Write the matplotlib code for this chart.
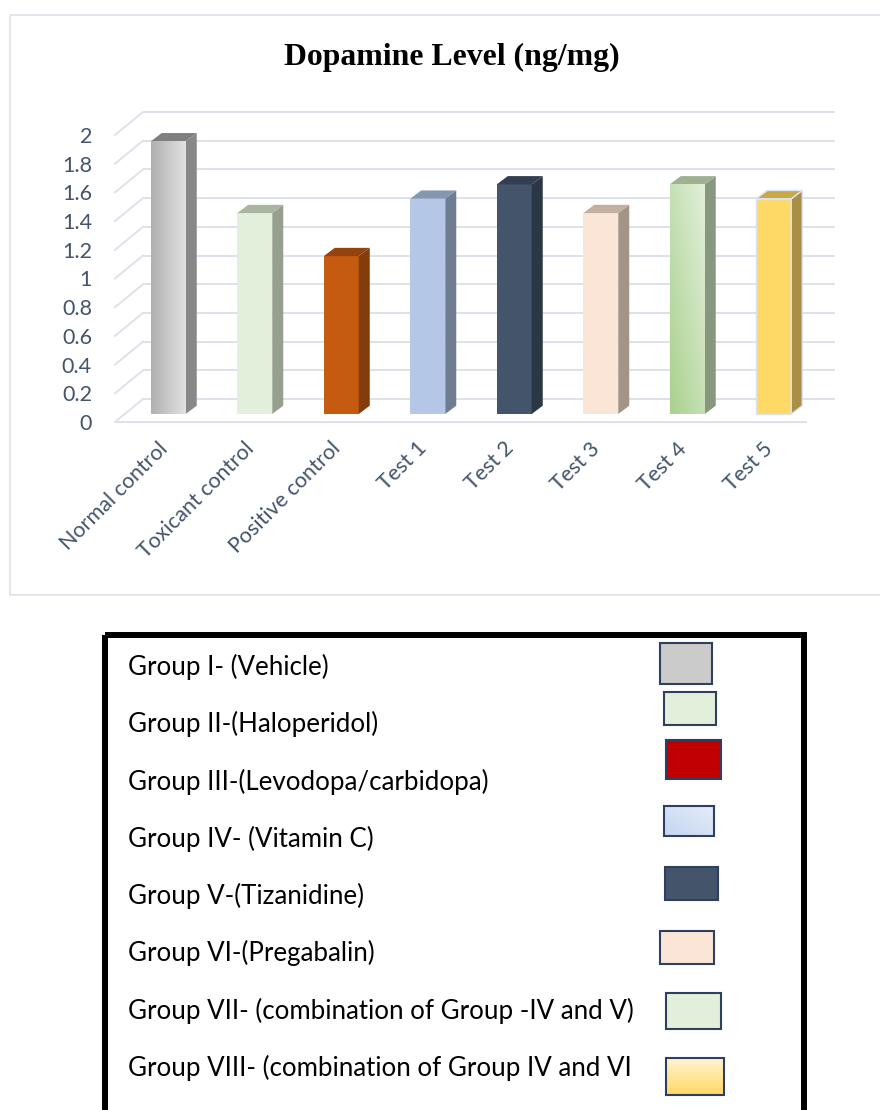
import numpy as np
import matplotlib.pyplot as plt
import matplotlib.transforms as mtransforms
from matplotlib.patches import Polygon, Rectangle
from matplotlib.colors import to_rgb

# %% data
categories = ['Normal control', 'Toxicant control', 'Positive control',
              'Test 1', 'Test 2', 'Test 3', 'Test 4', 'Test 5']
dopamine = [1.9, 1.4, 1.1, 1.5, 1.6, 1.4, 1.6, 1.5]
yticks = [0, 0.2, 0.4, 0.6, 0.8, 1.0, 1.2, 1.4, 1.6, 1.8, 2.0]

groups = ['Group I- (Vehicle)',
          'Group II-(Haloperidol)',
          'Group III-(Levodopa/carbidopa)',
          'Group IV- (Vitamin C)',
          'Group V-(Tizanidine)',
          'Group VI-(Pregabalin)',
          'Group VII- (combination of Group -IV and V)',
          'Group VIII- (combination of Group IV and VI']

# %% styles
front_col = ['#c8c8c8', '#e2efda', '#c55a11', '#b4c7e7', '#44546a', '#fbe5d6', '#c5e0b4', '#ffd966']
side_col = ['#888888', '#97a08f', '#843c0c', '#6f7d93', '#2c3745', '#a39486', '#889880', '#a88f45']
top_col = ['#7f7f7f', '#a9b59f', '#93440e', '#8497b0', '#333f50', '#c3b0a0', '#a0b095', '#c9a847']
grad = {0: ('#b0b0b0', '#e2e2e2', 'h'), 6: ('#a9d18e', '#e2efda', 'd')}

swatch_col = ['#cbcbcb', '#e2efda', '#c00000', '#dae3f3', '#44546a', '#fbe5d6', '#e2efda', '#ffe699']
swatch_grad = {3: ('#c5d6f0', '#e4ecf9', 'd'), 7: ('#ffd966', '#fff4d6', 'v')}

tick_col = '#44546a'
grid_col = '#dde2ea'

W, H = 880, 1110
fig = plt.figure(figsize=(W / 100, H / 100), dpi=100)

# full-figure pixel axes for frames + legend
lax = fig.add_axes([0, 0, 1, 1], zorder=0)
lax.axis('off')


def gradient_fill(a, x0, x1, y0, y1, c0, c1, mode, clip, z):
    n = 64
    u, v = np.meshgrid(np.linspace(0, 1, n), np.linspace(0, 1, n))
    if mode == 'h':
        t = u
    elif mode == 'v':
        t = v
    else:
        t = (u + v) / 2
    c0, c1 = np.array(to_rgb(c0)), np.array(to_rgb(c1))
    img = c0 + (c1 - c0) * t[..., None]
    im = a.imshow(img, extent=[x0, x1, y0, y1], origin='lower', aspect='auto',
                  zorder=z, interpolation='bilinear')
    im.set_clip_path(clip)


# chart panel frame
lax.add_patch(Rectangle((10, 15), 900, 580, fill=False, ec='#dbe1e9', lw=1.2))

# %% 3d-ish bar chart
L, R, T, B = 95, 860, 90, 430
SX, SY = 86.5, 143.5      # px per category / px per unit
X0, Y0 = 125, 414         # px of category -0.5 and value 0
ax = fig.add_axes([L / W, 1 - B / H, (R - L) / W, (B - T) / H], zorder=1)
ax.patch.set_visible(False)

bar_dx, bar_dy = 11 / SX, 8.3 / SY
back_dx, back_dy = 18 / SX, 15 / SY
front_dx, front_dy = -10 / SX, -8 / SY
bw = 35 / SX
n = len(categories)

for v in yticks:
    ax.plot([-0.5 + back_dx, n - 0.5 + back_dx], [v + back_dy] * 2,
            color=grid_col, lw=1.4, zorder=0, solid_capstyle='butt')
    ax.plot([-0.5 + front_dx, -0.5 + back_dx], [v + front_dy, v + back_dy],
            color=grid_col, lw=1.4, zorder=0)
ax.plot([-0.5 + front_dx, n - 0.5 + front_dx], [front_dy] * 2,
        color=grid_col, lw=1.4, zorder=0, solid_capstyle='butt')

x = np.arange(n)
bars = ax.bar(x, dopamine, width=bw, color=front_col, lw=0, zorder=3)
for i, (b, val) in enumerate(zip(bars, dopamine)):
    x0 = b.get_x()
    x1 = x0 + b.get_width()
    ec = '#dae3f3' if i == 7 else 'none'
    ax.add_patch(Polygon([(x1, 0), (x1 + bar_dx, bar_dy), (x1 + bar_dx, val + bar_dy), (x1, val)],
                         closed=True, fc=side_col[i], ec=ec, lw=1, zorder=3))
    ax.add_patch(Polygon([(x0, val), (x0 + bar_dx, val + bar_dy), (x1 + bar_dx, val + bar_dy), (x1, val)],
                         closed=True, fc=top_col[i], ec=ec, lw=1, zorder=3))
    if i in grad:
        c0, c1, m = grad[i]
        gradient_fill(ax, x0, x1, 0, val, c0, c1, m, b, 4)
    if i == 7:
        b.set_edgecolor(ec)
        b.set_linewidth(1)

ax.set_xlim((L - X0) / SX - 0.5, (R - X0) / SX - 0.5)
ax.set_ylim((Y0 - B) / SY, (Y0 - T) / SY)

ax.set_yticks(np.array(yticks) + front_dy, labels=[f'{t:g}' for t in yticks])
ax.set_xticks(x, labels=categories, rotation=45, ha='right', rotation_mode='anchor')
ax.tick_params(axis='y', length=0, pad=2.2, labelsize=15.5, labelcolor=tick_col)
ax.tick_params(axis='x', length=0, pad=6, labelsize=15.5, labelcolor=tick_col)
shift = mtransforms.ScaledTranslation(-0.11, 0, fig.dpi_scale_trans)
for lab in ax.get_xticklabels():
    lab.set_family('Lato')
    lab.set_transform(lab.get_transform() + shift)
for lab in ax.get_yticklabels():
    lab.set_family('Lato')
for s in ax.spines.values():
    s.set_visible(False)

fig.text(452 / W, 1 - 65 / H, 'Dopamine Level (ng/mg)', ha='center', va='baseline',
         family='Liberation Serif', weight='bold', size=22.9)

# %% legend box
lax.add_patch(Rectangle((105, 635), 699, 520, fill=False, ec='black', lw=4.3))

sw_x0 = [660, 664, 666, 664, 665, 660, 666, 666]
sw_cy = [663, 708, 759, 821, 883, 947, 1011, 1076]
sw_w = [52, 52, 55, 50, 53, 54, 55, 58]
sw_h = [41, 33, 39, 30, 33, 33, 36, 37]

for i, g in enumerate(groups):
    lax.text(128, 675 + i * 57.3, g, ha='left', va='baseline', family='Lato',
             size=18.6, color='black')
    r = Rectangle((sw_x0[i], sw_cy[i] - sw_h[i] / 2), sw_w[i], sw_h[i],
                  fc=swatch_col[i], ec='none', zorder=3)
    lax.add_patch(r)
    if i in swatch_grad:
        c0, c1, m = swatch_grad[i]
        y_top = sw_cy[i] - sw_h[i] / 2
        gradient_fill(lax, sw_x0[i], sw_x0[i] + sw_w[i], y_top + sw_h[i], y_top,
                      c0, c1, m, r, 3.5)
    lax.add_patch(Rectangle((sw_x0[i], sw_cy[i] - sw_h[i] / 2), sw_w[i], sw_h[i],
                            fill=False, ec='#2f3f5f', lw=1.5, zorder=4))

lax.set_xlim(0, W)
lax.set_ylim(H, 0)

plt.savefig('out.png', dpi=100)
